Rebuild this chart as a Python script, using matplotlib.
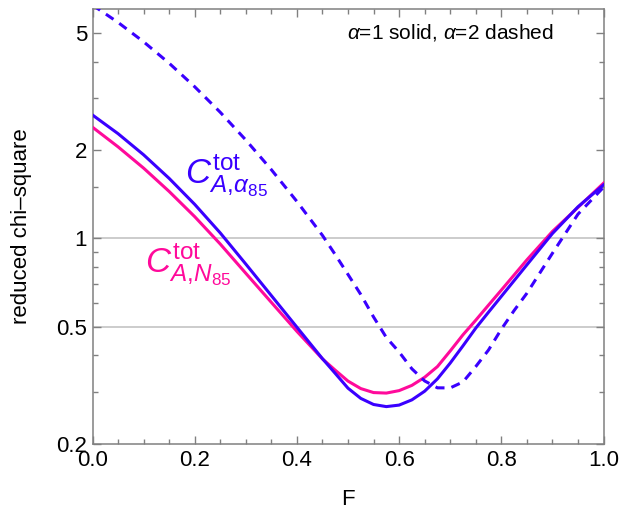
import numpy as np
import matplotlib
matplotlib.use("Agg")
import matplotlib.pyplot as plt
from matplotlib.ticker import FixedLocator, FixedFormatter, NullFormatter, MultipleLocator

plt.rcParams['font.family'] = ['Liberation Sans', 'DejaVu Sans']
plt.rcParams['mathtext.fontset'] = 'custom'
plt.rcParams['mathtext.rm'] = 'Liberation Sans'
plt.rcParams['mathtext.it'] = 'Liberation Sans:italic'

# values
F = [0.0, 0.05, 0.10, 0.15, 0.20, 0.25, 0.30, 0.35, 0.40, 0.45, 0.475, 0.50, 0.525,
     0.55, 0.575, 0.60, 0.625, 0.65, 0.675, 0.70, 0.725, 0.75, 0.775, 0.80, 0.85,
     0.90, 0.95, 1.0]

# alpha_85, alpha=1 (solid blue)
chi_alpha1 = [2.63, 2.272, 1.925, 1.600, 1.305, 1.043, 0.817, 0.638, 0.498, 0.389, 0.3466,
              0.3086, 0.2849, 0.2716, 0.2671, 0.2703, 0.2816, 0.3014, 0.332, 0.3758, 0.4302,
              0.4943, 0.5602, 0.6339, 0.8116, 1.038, 1.28, 1.52]

# N_85, alpha=1 (solid pink)
chi_N1 = [2.39, 2.049, 1.734, 1.444, 1.185, 0.956, 0.760, 0.605, 0.482, 0.3883, 0.3554,
          0.3263, 0.3077, 0.2982, 0.297, 0.3028, 0.3155, 0.3362, 0.3656, 0.4132, 0.4691,
          0.526, 0.5922, 0.666, 0.844, 1.055, 1.274, 1.54]

# alpha_85, alpha=2 (dashed blue)
F_dash = [0.0, 0.05, 0.10, 0.15, 0.20, 0.25, 0.30, 0.35, 0.40, 0.45, 0.475, 0.50, 0.525,
          0.55, 0.575, 0.60, 0.625, 0.65, 0.675, 0.70, 0.725, 0.75, 0.775, 0.80, 0.825,
          0.85, 0.875, 0.90, 0.95, 1.0]
chi_alpha2 = [6.23, 5.437, 4.670, 3.948, 3.282, 2.687, 2.162, 1.713, 1.335, 1.023, 0.880,
              0.753, 0.6436, 0.5395, 0.4594, 0.410, 0.3593, 0.3267, 0.3095, 0.3093, 0.3241,
              0.3656, 0.4164, 0.490, 0.5673, 0.6496, 0.760, 0.889, 1.208, 1.492]

yticks_major = [0.2, 0.5, 1, 2, 5]
ytick_labels = ['0.2', '0.5', '1', '2', '5']
yticks_minor = [0.3, 0.4, 0.6, 0.7, 0.8, 0.9, 1.5, 3, 4]

blue = '#3a00ff'
pink = '#ff0a9b'
frame = '#808080'

fig = plt.figure(figsize=(6.34, 5.09), dpi=100)
ax = fig.add_axes([92.5 / 634, 1 - 443.5 / 509, 511 / 634, 434.5 / 509])

ax.axhline(0.5, color='#c4c4c4', lw=1.2, zorder=1)
ax.axhline(1.0, color='#c4c4c4', lw=1.2, zorder=1)

ax.plot(F, chi_N1, color=pink, lw=2.2, zorder=3)
ax.plot(F, chi_alpha1, color=blue, lw=2.2, zorder=3)
ax.plot(F_dash, chi_alpha2, color=blue, lw=2.2, dashes=(3.0, 2.3), zorder=3)

ax.set_yscale('log')
ax.set_xlim(0, 1)
ax.set_ylim(0.2, 6.04)

ax.yaxis.set_major_locator(FixedLocator(yticks_major))
ax.yaxis.set_major_formatter(FixedFormatter(ytick_labels))
ax.yaxis.set_minor_locator(FixedLocator(yticks_minor))
ax.yaxis.set_minor_formatter(NullFormatter())
ax.xaxis.set_major_locator(MultipleLocator(0.2))
ax.xaxis.set_minor_locator(MultipleLocator(0.05))
ax.xaxis.set_major_formatter(matplotlib.ticker.FormatStrFormatter('%.1f'))

ax.tick_params(which='both', direction='in', top=True, right=True, color=frame,
               labelsize=16, width=1.0)
ax.tick_params(which='major', length=6)
ax.tick_params(which='minor', length=3.5)
ax.tick_params(axis='x', pad=5)
ax.tick_params(axis='y', pad=4)
for s in ax.spines.values():
    s.set_color(frame)
    s.set_linewidth(1.1)

ax.set_xlabel('F', fontsize=16)
ax.xaxis.set_label_coords(0.5, -0.105)
ax.set_ylabel('reduced chi\u2013square', fontsize=16)
ax.yaxis.set_label_coords(-0.118, 0.5)

ax.text(0.181, 1.54, r'$C^{\mathrm{tot}}_{A,\!\alpha_{85}}$', color=blue, fontsize=25,
        ha='left', va='baseline')
ax.text(0.103, 0.762, r'$C^{\mathrm{tot}}_{A,\!N_{85}}$', color=pink, fontsize=25,
        ha='left', va='baseline')
ax.text(0.70, 0.945, r'$\alpha$=1 solid, $\alpha$=2 dashed', transform=ax.transAxes,
        fontsize=15, ha='center', va='center')

fig.savefig('out.png', dpi=100)
